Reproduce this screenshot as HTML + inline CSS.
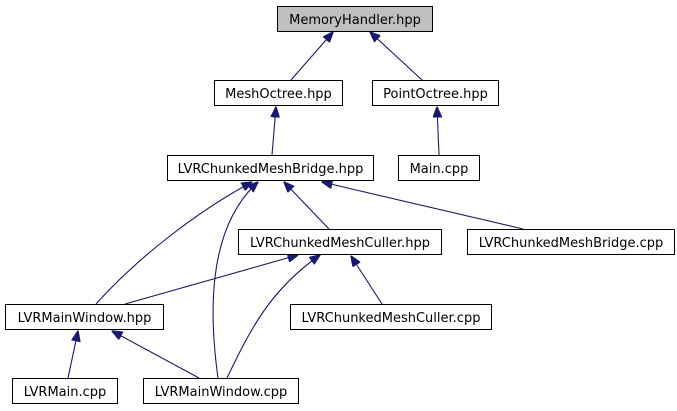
<!DOCTYPE html>
<html><head><meta charset="utf-8"><style>
html,body{margin:0;padding:0;background:#fff;width:677px;height:411px;overflow:hidden}
text{font-family:"DejaVu Sans","Liberation Sans",sans-serif;font-size:13px;fill:#000}
</style></head><body>
<svg width="677" height="411" viewBox="0 0 677 411" xmlns="http://www.w3.org/2000/svg">
<defs><marker id="a" markerWidth="11" markerHeight="9" refX="10.5" refY="4.5" orient="auto" markerUnits="userSpaceOnUse"><path d="M0,0 L11,4.5 L0,9 Z" fill="#191970" stroke="#191970"/></marker></defs>
<g fill="none" stroke="#191970" stroke-width="1.1" marker-end="url(#a)">
<path d="M291,80 L333,32"/>
<path d="M422,80 L370,32"/>
<path d="M272,155 L276,107"/>
<path d="M439,155 L437,107"/>
<path d="M329,229 L284,182"/>
<path d="M523,229 L322,182"/>
<path d="M96,304 C140,255 200,210 252,182"/>
<path d="M218,378 C210,320 205,230 258,182"/>
<path d="M125,304 L298,255"/>
<path d="M227,378 C250,330 270,290 320,255"/>
<path d="M382,304 L351,256"/>
<path d="M68,378 L78,331"/>
<path d="M199,378 L112,331"/>
</g>
<g stroke="#000" stroke-width="1">
<rect x="277.5" y="6.5" width="155" height="25" fill="#bfbfbf"/>
<rect x="214.5" y="80.5" width="128" height="25" fill="#fff"/>
<rect x="372.5" y="80.5" width="126" height="25" fill="#fff"/>
<rect x="167.5" y="155.5" width="206" height="25" fill="#fff"/>
<rect x="398.5" y="155.5" width="81" height="25" fill="#fff"/>
<rect x="238.5" y="229.5" width="203" height="25" fill="#fff"/>
<rect x="467.5" y="229.5" width="207" height="25" fill="#fff"/>
<rect x="5.5" y="304.5" width="158" height="25" fill="#fff"/>
<rect x="290.5" y="304.5" width="201" height="25" fill="#fff"/>
<rect x="12.5" y="378.5" width="105" height="25" fill="#fff"/>
<rect x="143.5" y="378.5" width="155" height="25" fill="#fff"/>
</g>
<g text-anchor="middle">
<text x="355" y="24">MemoryHandler.hpp</text>
<text x="278.5" y="98">MeshOctree.hpp</text>
<text x="435.5" y="98">PointOctree.hpp</text>
<text x="270.5" y="173">LVRChunkedMeshBridge.hpp</text>
<text x="439" y="173">Main.cpp</text>
<text x="340" y="247">LVRChunkedMeshCuller.hpp</text>
<text x="571" y="247">LVRChunkedMeshBridge.cpp</text>
<text x="84.5" y="322">LVRMainWindow.hpp</text>
<text x="391" y="322">LVRChunkedMeshCuller.cpp</text>
<text x="65" y="396">LVRMain.cpp</text>
<text x="221" y="396">LVRMainWindow.cpp</text>
</g>
</svg>
</body></html>
